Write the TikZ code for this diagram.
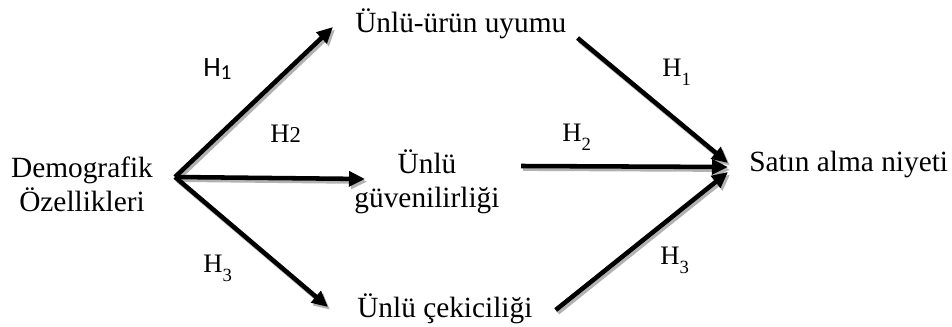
\documentclass[tikz,border=0pt]{standalone}
\usepackage{fontspec}
\setmainfont{Liberation Serif}
\newfontfamily\calfont{Carlito}
\usetikzlibrary{arrows.meta}

\newcommand{\hyp}[1]{H\raisebox{-0.32em}{\fontsize{14}{14}\selectfont #1}}

\tikzset{
  txt/.style={inner sep=0pt, font=\fontsize{22}{26}\selectfont, align=center},
  hlab/.style={inner sep=0pt, anchor=base west, font=\fontsize{20}{24}\selectfont},
  arr/.style={line width=3.4pt, -{Triangle[length=12pt,width=11pt]},
    preaction={draw=gray!60, line width=3.4pt, -{Triangle[length=12pt,width=11pt]},
      transform canvas={shift={(1.5pt,-2pt)}}}}
}

\begin{document}
\begin{tikzpicture}[x=0.75pt,y=-0.75pt]
  \useasboundingbox (0,0) rectangle (952,327);

  % variables
  \node[txt, anchor=base] (demo) at (82,212) {Demografik\\Özellikleri};
  \node[txt, anchor=base west] (uyum) at (355,33) {Ünlü-ürün uyumu};
  \node[txt, anchor=base] (guven) at (427,208) {Ünlü\\güvenilirliği};
  \node[txt, anchor=base west] (cekici) at (357,317) {Ünlü çekiciliği};
  \node[txt, anchor=base west] (satin) at (749,172) {Satın alma niyeti};

  \coordinate (src) at ([shift={(93,-35)}]demo.base);

  % paths
  \draw[arr] (src) -- ([shift={(-22,-6)}]uyum.base west);
  \draw[arr] (src) -- ([shift={(-62,-29)}]guven.base);
  \draw[arr] (src) -- ([shift={(-29,-10)}]cekici.base west);
  \draw[arr] ([shift={(11,5)}]uyum.base east) -- ([shift={(-21,-9)}]satin.base west);
  \draw[arr] ([shift={(94,-42)}]guven.base) -- ([shift={(-21,-5)}]satin.base west);
  \draw[arr] ([shift={(23,-7)}]cekici.base east) -- ([shift={(-21,0)}]satin.base west);

  % hypotheses
  \node[hlab, font=\fontsize{21}{24}\calfont] (h1a) at (203,77) {H\raisebox{-0.1em}{\fontsize{16}{16}\selectfont 1}};
  \node[hlab] (h2a) at (270,143) {H{\fontsize{17}{17}\selectfont 2}};
  \node[hlab] (h3a) at (203,273) {\hyp{3}};
  \node[hlab] (h1b) at (662,77) {\hyp{1}};
  \node[hlab] (h2b) at (562,142) {\hyp{2}};
  \node[hlab] (h3b) at (660,265) {\hyp{3}};
\end{tikzpicture}
\end{document}
